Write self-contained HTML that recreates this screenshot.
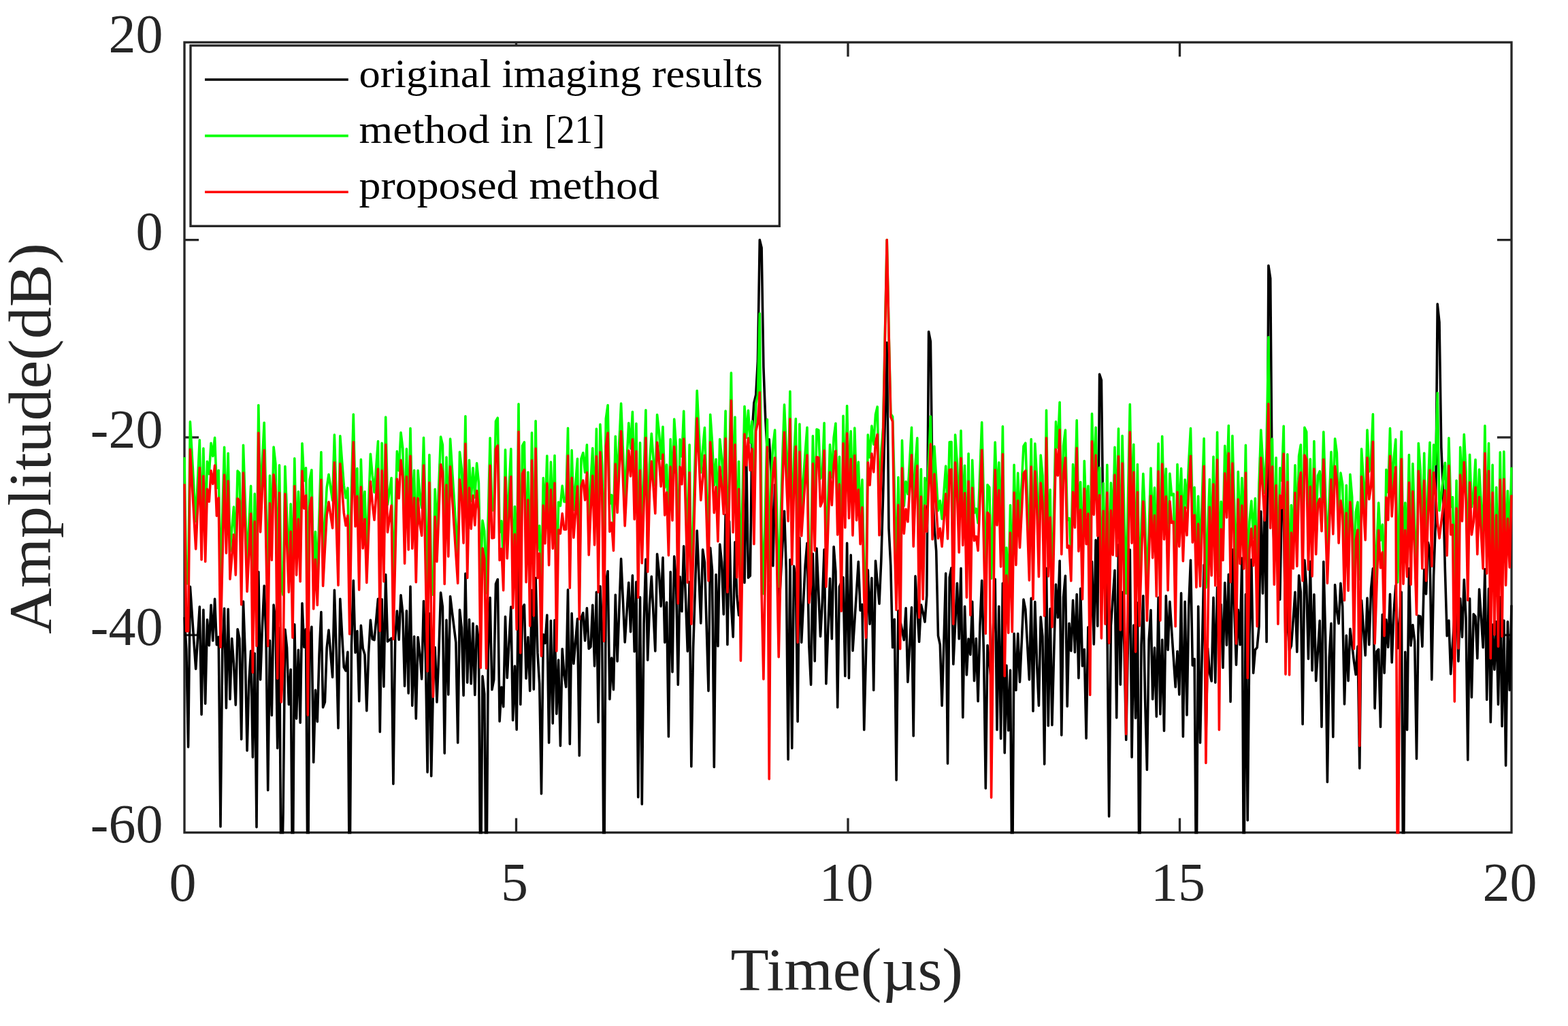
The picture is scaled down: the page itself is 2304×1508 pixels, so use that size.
<!DOCTYPE html>
<html lang="en"><head><meta charset="utf-8"><title>Amplitude versus time</title>
<style>
html,body{margin:0;padding:0;background:#fff;}
body{width:2304px;height:1508px;overflow:hidden;}
svg{display:block;}
text{font-family:"Liberation Serif","DejaVu Serif",serif;}
.ax{fill:none;stroke:#262626;stroke-width:3.33;stroke-linecap:square;}
.tk{fill:none;stroke:#262626;stroke-width:3.33;stroke-linecap:butt;}
.ln{fill:none;stroke-width:3.60;stroke-linejoin:round;stroke-linecap:butt;}
.tl{fill:#262626;font-size:80px;}
.lb{fill:#262626;font-size:89px;}
.lg{fill:#000;font-size:59px;}
</style></head><body>
<svg width="2304" height="1508" viewBox="0 0 2304 1508">
<defs><clipPath id="c"><rect x="269.30" y="60.50" width="1953.40" height="1164.90"/></clipPath></defs>
<rect width="2304" height="1508" fill="#fff"/>
<rect class="ax" x="271.00" y="62.20" width="1950.00" height="1161.50"/>
<path class="tk" d="M758.50 1223.70v-21.10M758.50 62.20v21.10M1246.00 1223.70v-21.10M1246.00 62.20v21.10M1733.50 1223.70v-21.10M1733.50 62.20v21.10M271.00 352.57h21.10M2221.00 352.57h-21.10M271.00 642.95h21.10M2221.00 642.95h-21.10M271.00 933.33h21.10M2221.00 933.33h-21.10"/>
<g clip-path="url(#c)">
<polyline class="ln" stroke="#000" points="271.0,907.2 273.8,954.0 276.6,1097.9 279.4,862.2 282.2,902.5 284.9,942.9 287.7,983.2 290.5,937.6 293.3,891.9 296.1,1050.1 298.9,896.3 301.7,1034.2 304.5,910.9 307.3,948.6 310.1,889.3 312.8,941.7 315.6,880.3 318.4,947.6 321.2,936.3 324.0,1214.9 326.8,955.3 329.6,894.2 332.4,1040.6 335.2,895.3 338.0,1027.6 340.7,938.5 343.5,975.6 346.3,1036.2 349.1,924.7 351.9,938.7 354.7,1086.6 357.5,884.1 360.3,961.6 363.1,1103.1 365.8,1003.3 368.6,956.8 371.4,1113.0 374.2,960.3 377.0,1215.7 379.8,840.6 382.6,998.9 385.4,921.5 388.2,861.0 391.0,935.5 393.7,1161.4 396.5,941.6 399.3,1051.5 402.1,889.1 404.9,912.7 407.7,1099.7 410.5,923.1 413.3,1339.9 416.1,1194.4 418.9,925.3 421.6,952.3 424.4,1035.4 427.2,984.1 430.0,1339.9 432.8,917.7 435.6,1056.2 438.4,955.4 441.2,1062.3 444.0,886.7 446.8,951.2 449.5,924.7 452.3,1339.9 455.1,943.5 457.9,921.3 460.7,1120.5 463.5,1014.4 466.3,1060.6 469.1,961.4 471.9,899.5 474.6,1039.7 477.4,1031.9 480.2,952.1 483.0,926.1 485.8,960.8 488.6,995.4 491.4,867.2 494.2,956.1 497.0,1070.1 499.8,880.3 502.5,930.5 505.3,980.6 508.1,985.9 510.9,958.4 513.7,1339.9 516.5,948.7 519.3,853.3 522.1,959.1 524.9,927.6 527.7,1030.7 530.4,919.4 533.2,952.7 536.0,962.3 538.8,1044.6 541.6,960.0 544.4,911.4 547.2,939.3 550.0,940.7 552.8,910.5 555.5,880.2 558.3,1075.7 561.1,880.8 563.9,1009.3 566.7,844.6 569.5,943.0 572.3,940.5 575.1,938.1 577.9,1152.3 580.7,937.8 583.4,898.0 586.2,940.1 589.0,874.8 591.8,901.5 594.6,1008.4 597.4,897.7 600.2,1018.9 603.0,862.1 605.8,1037.1 608.6,935.5 611.3,1056.2 614.1,936.5 616.9,961.4 619.7,998.0 622.5,883.5 625.3,960.7 628.1,1134.9 630.9,901.8 633.7,1140.8 636.5,1008.4 639.2,951.6 642.0,1031.9 644.8,960.8 647.6,871.1 650.4,892.2 653.2,1107.1 656.0,911.2 658.8,1021.0 661.6,876.5 664.3,899.1 667.1,921.8 669.9,944.5 672.7,1091.8 675.5,896.3 678.3,922.6 681.1,1022.3 683.9,843.0 686.7,1003.2 689.5,910.6 692.2,1005.0 695.0,916.4 697.8,1021.5 700.6,920.3 703.4,942.3 706.2,1339.9 709.0,993.9 711.8,1019.9 714.6,1339.9 717.4,956.3 720.1,878.5 722.9,1013.7 725.7,998.9 728.5,858.1 731.3,851.5 734.1,1060.2 736.9,1010.0 739.7,1038.8 742.5,906.2 745.2,996.3 748.0,944.2 750.8,892.0 753.6,1058.8 756.4,979.1 759.2,1072.4 762.0,826.4 764.8,1035.4 767.6,893.3 770.4,888.8 773.1,997.1 775.9,936.6 778.7,1015.4 781.5,867.6 784.3,1013.3 787.1,849.6 789.9,959.4 792.7,1005.4 795.5,1166.6 798.3,932.6 801.0,945.5 803.8,904.1 806.6,1091.8 809.4,912.3 812.2,1063.2 815.0,911.5 817.8,1049.3 820.6,970.1 823.4,1096.2 826.2,953.7 828.9,991.1 831.7,1009.8 834.5,866.9 837.3,1093.6 840.1,901.5 842.9,975.4 845.7,942.5 848.5,909.6 851.3,1110.6 854.0,908.1 856.8,900.8 859.6,941.6 862.4,893.7 865.2,953.5 868.0,950.7 870.8,889.3 873.6,978.9 876.4,870.3 879.2,1061.4 881.9,861.7 884.7,927.5 887.5,1339.9 890.3,855.7 893.1,839.5 895.9,1027.6 898.7,967.1 901.5,1013.7 904.3,874.3 907.1,972.0 909.8,896.7 912.6,821.4 915.4,882.7 918.2,944.0 921.0,900.1 923.8,856.2 926.6,928.7 929.4,845.9 932.2,957.8 934.9,855.4 937.7,1171.8 940.5,877.9 943.3,1181.9 946.1,917.0 948.9,822.0 951.7,970.2 954.5,888.6 957.3,847.4 960.1,902.2 962.8,957.0 965.6,814.2 968.4,841.9 971.2,891.2 974.0,819.6 976.8,944.2 979.6,885.3 982.4,1082.8 985.2,840.6 988.0,987.6 990.7,817.9 993.5,854.7 996.3,1006.4 999.1,847.7 1001.9,898.7 1004.7,802.9 1007.5,880.0 1010.3,957.1 1013.1,855.3 1015.8,1126.6 1018.6,952.6 1021.4,866.3 1024.2,780.0 1027.0,848.0 1029.8,915.9 1032.6,807.8 1035.4,826.6 1038.2,921.0 1041.0,1015.4 1043.7,805.2 1046.5,838.5 1049.3,1127.5 1052.1,844.5 1054.9,949.6 1057.7,800.0 1060.5,826.2 1063.3,902.9 1066.1,756.7 1068.9,947.5 1071.6,766.4 1074.4,889.8 1077.2,936.2 1080.0,796.8 1082.8,875.2 1085.6,904.3 1088.4,875.2 1091.2,744.6 1094.0,856.4 1096.8,677.8 1099.5,849.1 1102.3,846.2 1105.1,635.7 1107.9,592.1 1110.7,580.5 1113.5,529.7 1116.3,352.6 1119.1,364.2 1121.9,539.9 1124.6,612.5 1127.4,664.7 1130.2,645.9 1133.0,692.3 1135.8,831.7 1138.6,712.6 1141.4,788.1 1144.2,902.5 1147.0,852.1 1149.8,801.6 1152.5,751.2 1155.3,837.9 1158.1,1116.2 1160.9,822.6 1163.7,1099.7 1166.5,832.1 1169.3,848.4 1172.1,1060.6 1174.9,790.6 1177.7,944.2 1180.4,887.3 1183.2,830.4 1186.0,798.2 1188.8,949.4 1191.6,1006.4 1194.4,814.1 1197.2,971.6 1200.0,806.1 1202.8,871.2 1205.5,935.5 1208.3,884.3 1211.1,807.8 1213.9,1005.0 1216.7,927.7 1219.5,850.4 1222.3,939.0 1225.1,803.5 1227.9,839.6 1230.7,1039.7 1233.4,862.5 1236.2,855.6 1239.0,848.6 1241.8,993.7 1244.6,798.2 1247.4,996.6 1250.2,815.7 1253.0,956.4 1255.8,912.8 1258.6,869.1 1261.3,825.5 1264.1,897.3 1266.9,888.5 1269.7,1072.7 1272.5,958.6 1275.3,837.7 1278.1,917.3 1280.9,849.5 1283.7,1014.5 1286.5,824.3 1289.2,855.8 1292.0,887.4 1294.8,824.4 1297.6,728.6 1300.4,613.9 1303.2,503.6 1306.0,776.5 1308.8,831.7 1311.6,951.7 1314.3,910.2 1317.1,1146.6 1319.9,897.7 1322.7,912.0 1325.5,926.4 1328.3,940.7 1331.1,893.8 1333.9,1002.4 1336.7,947.7 1339.5,892.9 1342.2,1081.8 1345.0,846.9 1347.8,895.1 1350.6,943.3 1353.4,889.0 1356.2,899.9 1359.0,914.1 1361.8,875.2 1364.6,487.6 1367.4,502.1 1370.1,715.5 1372.9,773.6 1375.7,809.9 1378.5,934.3 1381.3,947.3 1384.1,1037.1 1386.9,944.0 1389.7,842.9 1392.5,1122.3 1395.2,848.8 1398.0,834.7 1400.8,976.3 1403.6,916.8 1406.4,857.3 1409.2,939.0 1412.0,835.3 1414.8,1054.5 1417.6,891.3 1420.4,991.9 1423.1,939.0 1425.9,962.1 1428.7,884.3 1431.5,1000.6 1434.3,938.5 1437.1,1030.7 1439.9,920.5 1442.7,853.3 1445.5,960.1 1448.3,1158.7 1451.0,948.5 1453.8,974.6 1456.6,1000.6 1459.4,925.9 1462.2,851.2 1465.0,1072.7 1467.8,891.2 1470.6,1085.8 1473.4,857.3 1476.2,1106.6 1478.9,978.1 1481.7,1073.6 1484.5,985.0 1487.3,1339.9 1490.1,931.2 1492.9,1014.5 1495.7,931.2 1498.5,1002.4 1501.3,941.7 1504.0,881.1 1506.8,895.6 1509.6,947.2 1512.4,998.9 1515.2,879.4 1518.0,1045.3 1520.8,884.6 1523.6,975.5 1526.4,1037.1 1529.2,906.8 1531.9,935.5 1534.7,1123.1 1537.5,835.3 1540.3,1066.7 1543.1,894.7 1545.9,1065.8 1548.7,957.8 1551.5,859.1 1554.3,907.7 1557.1,824.3 1559.8,1080.6 1562.6,877.7 1565.4,846.4 1568.2,1038.3 1571.0,916.4 1573.8,956.6 1576.6,882.2 1579.4,958.8 1582.2,873.5 1584.9,996.6 1587.7,865.1 1590.5,978.9 1593.3,954.6 1596.1,1085.2 1598.9,921.9 1601.7,950.1 1604.5,825.5 1607.3,946.9 1610.1,793.9 1612.8,920.3 1615.6,550.0 1618.4,558.7 1621.2,788.1 1624.0,759.1 1626.8,901.5 1629.6,1199.9 1632.4,919.2 1635.2,878.7 1638.0,838.2 1640.7,1055.0 1643.5,800.9 1646.3,1006.2 1649.1,870.4 1651.9,948.0 1654.7,1087.5 1657.5,944.3 1660.3,808.1 1663.1,1113.0 1665.8,919.0 1668.6,1055.4 1671.4,886.0 1674.2,1339.9 1677.0,947.9 1679.8,875.9 1682.6,1027.6 1685.4,1131.5 1688.2,940.7 1691.0,896.8 1693.7,1027.6 1696.5,952.0 1699.3,1053.3 1702.1,878.2 1704.9,1049.8 1707.7,940.2 1710.5,1074.1 1713.3,875.9 1716.1,955.3 1718.9,884.3 1721.6,926.1 1724.4,968.0 1727.2,1009.8 1730.0,957.2 1732.8,1021.0 1735.6,871.7 1738.4,1082.8 1741.2,884.3 1744.0,1051.0 1746.8,890.0 1749.5,823.4 1752.3,978.0 1755.1,968.5 1757.9,1339.9 1760.7,891.2 1763.5,1091.8 1766.3,957.1 1769.1,830.4 1771.9,1084.9 1774.6,952.6 1777.4,988.5 1780.2,1001.1 1783.0,878.2 1785.8,1003.2 1788.6,863.4 1791.4,942.1 1794.2,888.6 1797.0,981.5 1799.8,856.5 1802.5,948.1 1805.3,844.3 1808.1,1031.4 1810.9,807.8 1813.7,892.5 1816.5,977.2 1819.3,896.4 1822.1,947.7 1824.9,820.3 1827.7,1339.9 1830.4,873.6 1833.2,1205.7 1836.0,933.5 1838.8,822.6 1841.6,989.3 1844.4,955.2 1847.2,951.6 1850.0,920.3 1852.8,751.8 1855.5,872.3 1858.3,730.1 1861.1,943.5 1863.9,390.3 1866.7,409.2 1869.5,744.6 1872.3,802.7 1875.1,759.1 1877.9,817.2 1880.7,881.1 1883.4,738.8 1886.2,739.0 1889.0,948.1 1891.8,888.3 1894.6,956.0 1897.4,949.3 1900.2,911.2 1903.0,870.4 1905.8,958.1 1908.6,845.7 1911.3,870.2 1914.1,1064.4 1916.9,823.4 1919.7,861.7 1922.5,968.5 1925.3,825.2 1928.1,985.5 1930.9,873.8 1933.7,1000.6 1936.5,956.5 1939.2,912.4 1942.0,1068.4 1944.8,825.5 1947.6,935.4 1950.4,1149.5 1953.2,966.7 1956.0,916.4 1958.8,1083.2 1961.6,859.6 1964.3,896.4 1967.1,916.4 1969.9,857.3 1972.7,891.2 1975.5,1034.9 1978.3,934.0 1981.1,1000.6 1983.9,924.2 1986.7,948.1 1989.5,972.0 1992.2,991.4 1995.0,950.0 1997.8,1129.2 2000.6,882.5 2003.4,922.9 2006.2,963.3 2009.0,879.0 2011.8,947.7 2014.6,865.1 2017.4,835.6 2020.1,1041.1 2022.9,957.4 2025.7,954.3 2028.5,1068.4 2031.3,903.4 2034.1,989.3 2036.9,910.7 2039.7,951.3 2042.5,873.3 2045.2,973.7 2048.0,900.2 2050.8,860.8 2053.6,952.8 2056.4,911.6 2059.2,870.4 2062.0,1339.9 2064.8,958.2 2067.6,1072.7 2070.4,835.6 2073.1,948.9 2075.9,918.5 2078.7,942.7 2081.5,1115.3 2084.3,905.1 2087.1,906.0 2089.9,950.3 2092.7,837.3 2095.5,873.0 2098.3,797.4 2101.0,808.5 2103.8,998.9 2106.6,846.2 2109.4,767.8 2112.2,446.9 2115.0,473.8 2117.8,657.5 2120.6,724.3 2123.4,839.0 2126.2,934.6 2128.9,912.1 2131.7,990.7 2134.5,946.8 2137.3,902.9 2140.1,859.1 2142.9,972.0 2145.7,879.8 2148.5,936.4 2151.3,852.1 2154.0,907.7 2156.8,1117.0 2159.6,879.9 2162.4,1024.9 2165.2,902.5 2168.0,906.0 2170.8,967.6 2173.6,866.0 2176.4,908.8 2179.2,951.7 2181.9,836.5 2184.7,1028.4 2187.5,865.3 2190.3,1061.4 2193.1,918.1 2195.9,984.1 2198.7,913.8 2201.5,1035.4 2204.3,877.8 2207.1,1067.5 2209.8,912.1 2212.6,1125.2 2215.4,913.8 2218.2,1014.5 2221.0,889.5"/>
<polyline class="ln" stroke="#0f0" points="271.0,672.0 273.8,857.8 276.6,857.8 279.4,619.9 282.2,668.7 284.9,717.5 287.7,766.3 290.5,706.6 293.3,646.9 296.1,781.9 298.9,659.0 301.7,784.9 304.5,678.2 307.3,696.6 310.1,651.2 312.8,670.5 315.6,643.4 318.4,717.4 321.2,691.2 324.0,857.1 326.8,757.2 329.6,657.3 332.4,772.4 335.2,666.3 338.0,810.6 340.7,777.8 343.5,745.1 346.3,804.5 349.1,692.1 351.9,695.2 354.7,847.9 357.5,654.4 360.3,741.6 363.1,828.8 365.8,772.9 368.6,714.3 371.4,860.9 374.2,725.9 377.0,869.8 379.8,595.6 382.6,741.4 385.4,678.2 388.2,621.2 391.0,741.4 393.7,861.6 396.5,699.0 399.3,782.4 402.1,657.0 404.9,681.6 407.7,863.2 410.5,683.7 413.3,863.2 416.1,874.6 418.9,685.5 421.6,757.6 424.4,829.7 427.2,740.7 430.0,847.7 432.8,673.8 435.6,804.5 438.4,722.5 441.2,814.1 444.0,651.7 446.8,706.8 449.5,687.7 452.3,853.2 455.1,705.1 457.9,690.7 460.7,854.4 463.5,781.5 466.3,848.0 469.1,756.3 471.9,664.6 474.6,820.7 477.4,766.5 480.2,716.4 483.0,697.3 485.8,716.4 488.6,735.5 491.4,639.1 494.2,729.3 497.0,819.6 499.8,640.8 502.5,677.1 505.3,713.4 508.1,731.8 510.9,717.3 513.7,865.8 516.5,717.3 519.3,609.0 522.1,733.2 524.9,688.6 527.7,826.2 530.4,675.2 533.2,765.3 536.0,722.5 538.8,815.8 541.6,741.5 544.4,667.2 547.2,699.0 550.0,723.6 552.8,686.1 555.5,648.6 558.3,865.4 561.1,651.2 563.9,814.1 566.7,613.0 569.5,741.6 572.3,722.1 575.1,702.5 577.9,860.2 580.7,761.8 583.4,663.4 586.2,691.7 589.0,635.8 591.8,659.0 594.6,787.7 597.4,659.9 600.2,767.3 603.0,629.5 605.8,765.4 608.6,691.2 611.3,814.9 614.1,691.5 616.9,729.4 619.7,746.5 622.5,643.4 625.3,753.9 628.1,864.3 630.9,668.6 633.7,849.9 636.5,874.3 639.2,719.0 642.0,784.7 644.8,713.4 647.6,642.0 650.4,653.8 653.2,817.9 656.0,672.1 658.8,777.2 661.6,645.1 664.3,688.0 667.1,730.9 669.9,773.8 672.7,816.7 675.5,664.3 678.3,688.6 681.1,757.4 683.9,611.8 686.7,808.9 689.5,676.4 692.2,736.5 695.0,687.7 697.8,731.3 700.6,680.8 703.4,709.8 706.2,856.0 709.0,765.0 711.8,780.3 714.6,871.7 717.4,757.7 720.1,643.8 722.9,750.3 725.7,749.8 728.5,619.1 731.3,614.2 734.1,782.8 736.9,765.9 739.7,827.1 742.5,661.1 745.2,780.2 748.0,720.0 750.8,659.9 753.6,853.2 756.4,744.6 759.2,854.9 762.0,593.9 764.8,873.0 767.6,655.2 770.4,649.8 773.1,814.9 775.9,694.1 778.7,849.0 781.5,636.1 784.3,847.7 787.1,618.7 789.9,808.9 792.7,772.9 795.5,862.1 798.3,702.5 801.0,758.1 803.8,670.0 806.6,790.1 809.4,679.0 812.2,765.4 815.0,669.5 817.8,874.8 820.6,738.1 823.4,743.5 826.2,714.1 828.9,737.4 831.7,737.6 834.5,629.2 837.3,823.6 840.1,661.7 842.9,749.6 845.7,711.9 848.5,674.2 851.3,866.8 854.0,674.2 856.8,665.5 859.6,694.3 862.4,653.8 865.2,775.0 868.0,709.1 870.8,658.7 873.6,760.2 876.4,630.2 879.2,829.7 881.9,623.9 884.7,683.7 887.5,849.2 890.3,615.6 893.1,595.6 895.9,740.9 898.7,727.7 901.5,768.7 904.3,641.3 907.1,712.8 909.8,652.9 912.6,593.0 915.4,662.6 918.2,732.2 921.0,676.9 923.8,621.7 926.6,659.2 929.4,605.2 932.2,722.6 934.9,622.6 937.7,837.5 940.5,650.9 943.3,787.1 946.1,699.9 948.9,602.9 951.7,799.8 954.5,682.5 957.3,637.3 960.1,675.6 962.8,714.0 965.6,609.5 968.4,635.1 971.2,674.3 974.0,627.4 976.8,716.6 979.6,683.0 982.4,775.6 985.2,645.5 988.0,724.4 990.7,616.0 993.5,656.4 996.3,846.2 999.1,645.7 1001.9,670.9 1004.7,604.3 1007.5,709.9 1010.3,815.5 1013.1,653.8 1015.8,866.8 1018.6,769.3 1021.4,671.8 1024.2,574.2 1027.0,634.4 1029.8,694.5 1032.6,661.3 1035.4,628.6 1038.2,720.9 1041.0,813.2 1043.7,609.2 1046.5,650.0 1049.3,713.1 1052.1,675.0 1054.9,755.0 1057.7,645.5 1060.5,673.5 1063.3,714.8 1066.1,604.0 1068.9,829.7 1071.6,688.9 1074.4,548.0 1077.2,741.8 1080.0,613.0 1082.8,808.0 1085.6,678.2 1088.4,849.9 1091.2,723.6 1094.0,597.4 1096.8,643.3 1099.5,603.4 1102.3,650.6 1105.1,619.1 1107.9,759.1 1110.7,593.0 1113.5,580.9 1116.3,460.7 1119.1,775.3 1121.9,872.6 1124.6,744.5 1127.4,616.5 1130.2,853.8 1133.0,704.2 1135.8,655.6 1138.6,632.1 1141.4,747.1 1144.2,862.2 1147.0,767.6 1149.8,672.9 1152.5,594.8 1155.3,660.0 1158.1,725.3 1160.9,575.3 1163.7,788.9 1166.5,679.0 1169.3,615.6 1172.1,856.6 1174.9,623.4 1177.7,747.0 1180.4,706.1 1183.2,665.1 1186.0,628.4 1188.8,845.3 1191.6,818.9 1194.4,640.8 1197.2,768.5 1200.0,631.0 1202.8,632.1 1205.5,703.5 1208.3,696.7 1211.1,621.7 1213.9,821.9 1216.7,737.7 1219.5,653.5 1222.3,701.8 1225.1,643.4 1227.9,622.2 1230.7,745.2 1233.4,671.2 1236.2,857.5 1239.0,611.3 1241.8,734.8 1244.6,596.5 1247.4,720.9 1250.2,633.8 1253.0,746.2 1255.8,629.0 1258.6,724.1 1261.3,679.0 1264.1,759.1 1266.9,705.1 1269.7,838.6 1272.5,875.1 1275.3,639.1 1278.1,672.3 1280.9,626.0 1283.7,653.1 1286.5,609.5 1289.2,597.9 1292.0,746.1 1294.8,664.7 1297.6,628.4 1300.4,492.0 1303.2,352.6 1306.0,486.1 1308.8,608.1 1311.6,612.5 1314.3,716.4 1317.1,855.8 1319.9,701.6 1322.7,873.7 1325.5,647.4 1328.3,743.5 1331.1,707.7 1333.9,726.1 1336.7,677.2 1339.5,628.3 1342.2,762.6 1345.0,682.5 1347.8,643.9 1350.6,855.2 1353.4,689.5 1356.2,840.1 1359.0,702.5 1361.8,740.8 1364.6,676.5 1367.4,612.1 1370.1,752.2 1372.9,656.1 1375.7,703.3 1378.5,750.5 1381.3,736.0 1384.1,762.6 1386.9,723.9 1389.7,685.1 1392.5,751.3 1395.2,649.8 1398.0,649.5 1400.8,868.1 1403.6,639.1 1406.4,681.6 1409.2,771.3 1412.0,633.0 1414.8,760.9 1417.6,684.2 1420.4,837.5 1423.1,666.9 1425.9,863.6 1428.7,676.4 1431.5,753.9 1434.3,747.7 1437.1,768.7 1439.9,694.8 1442.7,620.8 1445.5,736.9 1448.3,852.9 1451.0,712.6 1453.8,716.4 1456.6,850.2 1459.4,750.1 1462.2,650.0 1465.0,731.3 1467.8,679.9 1470.6,792.3 1473.4,626.9 1476.2,862.6 1478.9,805.0 1481.7,871.4 1484.5,742.5 1487.3,870.6 1490.1,683.4 1492.9,789.7 1495.7,695.2 1498.5,764.4 1501.3,710.0 1504.0,655.6 1506.8,651.2 1509.6,731.8 1512.4,812.3 1515.2,645.5 1518.0,840.1 1520.8,652.1 1523.6,703.4 1526.4,807.1 1529.2,669.1 1531.9,699.0 1534.7,851.3 1537.5,603.1 1540.3,806.2 1543.1,719.9 1545.9,873.6 1548.7,746.8 1551.5,619.9 1554.3,658.2 1557.1,591.3 1559.8,773.9 1562.6,655.2 1565.4,632.1 1568.2,764.4 1571.0,761.6 1573.8,813.2 1576.6,682.5 1579.4,734.8 1582.2,617.9 1584.9,769.6 1587.7,708.6 1590.5,840.1 1593.3,677.6 1596.1,759.1 1598.9,714.3 1601.7,850.4 1604.5,608.1 1607.3,715.7 1610.1,628.4 1612.8,747.0 1615.6,687.2 1618.4,871.4 1621.2,710.3 1624.0,846.3 1626.8,683.4 1629.6,856.0 1632.4,709.8 1635.2,775.0 1638.0,657.3 1640.7,776.5 1643.5,630.0 1646.3,853.0 1649.1,640.5 1651.9,756.4 1654.7,872.3 1657.5,733.3 1660.3,594.4 1663.1,757.4 1665.8,653.3 1668.6,862.9 1671.4,682.5 1674.2,864.8 1677.0,780.6 1679.8,696.4 1682.6,762.6 1685.4,867.4 1688.2,777.7 1691.0,688.1 1693.7,779.3 1696.5,716.9 1699.3,835.8 1702.1,652.1 1704.9,861.9 1707.7,641.3 1710.5,752.2 1713.3,689.1 1716.1,827.1 1718.9,696.1 1721.6,727.9 1724.4,725.9 1727.2,863.7 1730.0,682.5 1732.8,762.6 1735.6,688.6 1738.4,784.2 1741.2,705.1 1744.0,746.1 1746.8,678.2 1749.5,629.5 1752.3,756.5 1755.1,716.4 1757.9,822.4 1760.7,729.4 1763.5,821.0 1766.3,732.8 1769.1,644.6 1771.9,863.7 1774.6,784.1 1777.4,704.6 1780.2,805.4 1783.0,671.2 1785.8,820.1 1788.6,635.2 1791.4,846.4 1794.2,737.2 1797.0,782.8 1799.8,655.2 1802.5,720.0 1805.3,625.5 1808.1,814.9 1810.9,640.5 1813.7,746.6 1816.5,852.8 1819.3,693.4 1822.1,788.0 1824.9,702.5 1827.7,795.3 1830.4,654.4 1833.2,865.5 1836.0,766.1 1838.8,736.4 1841.6,790.6 1844.4,732.5 1847.2,867.2 1850.0,711.2 1852.8,632.1 1855.5,678.2 1858.3,724.4 1861.1,657.5 1863.9,495.6 1866.7,735.7 1869.5,645.1 1872.3,818.4 1875.1,672.9 1877.9,863.3 1880.7,687.7 1883.4,706.1 1886.2,626.4 1889.0,866.8 1891.8,667.7 1894.6,874.8 1897.4,742.5 1900.2,795.0 1903.0,683.7 1905.8,791.5 1908.6,670.3 1911.3,653.8 1914.1,813.2 1916.9,628.4 1919.7,634.7 1922.5,796.7 1925.3,674.7 1928.1,806.2 1930.9,648.6 1933.7,774.1 1936.5,699.0 1939.2,692.6 1942.0,740.0 1944.8,634.7 1947.6,725.7 1950.4,816.7 1953.2,738.0 1956.0,664.3 1958.8,744.4 1961.6,644.7 1964.3,665.5 1967.1,757.4 1969.9,695.0 1972.7,712.0 1975.5,841.9 1978.3,713.4 1981.1,827.6 1983.9,697.3 1986.7,730.6 1989.5,849.9 1992.2,752.6 1995.0,738.1 1997.8,851.4 2000.6,659.9 2003.4,706.5 2006.2,753.1 2009.0,632.1 2011.8,693.1 2014.6,673.8 2017.4,608.7 2020.1,869.0 2022.9,804.0 2025.7,739.0 2028.5,794.1 2031.3,771.1 2034.1,873.6 2036.9,690.3 2039.7,723.5 2042.5,629.5 2045.2,718.3 2048.0,675.0 2050.8,645.9 2053.6,856.0 2056.4,745.1 2059.2,634.2 2062.0,817.5 2064.8,739.0 2067.6,807.1 2070.4,668.6 2073.1,818.4 2075.9,681.6 2078.7,772.2 2081.5,862.7 2084.3,651.6 2087.1,691.1 2089.9,795.0 2092.7,666.0 2095.5,813.2 2098.3,716.4 2101.0,650.4 2103.8,791.5 2106.6,653.8 2109.4,682.5 2112.2,577.6 2115.0,750.5 2117.8,727.0 2120.6,703.6 2123.4,680.2 2126.2,775.8 2128.9,643.9 2131.7,745.2 2134.5,730.7 2137.3,869.3 2140.1,706.3 2142.9,870.3 2145.7,657.3 2148.5,725.3 2151.3,638.5 2154.0,692.8 2156.8,841.5 2159.6,668.3 2162.4,745.2 2165.2,726.8 2168.0,675.6 2170.8,774.1 2173.6,690.0 2176.4,742.5 2179.2,795.0 2181.9,625.7 2184.7,802.4 2187.5,651.6 2190.3,874.0 2193.1,683.4 2195.9,875.1 2198.7,716.4 2201.5,856.6 2204.3,664.8 2207.1,863.4 2209.8,663.7 2212.6,819.6 2215.4,721.6 2218.2,793.2 2221.0,686.8"/>
<polyline class="ln" stroke="#f00" points="271.0,711.2 273.8,927.7 276.6,927.7 279.4,660.6 282.2,709.4 284.9,758.2 287.7,806.9 290.5,747.2 293.3,687.5 296.1,822.6 298.9,699.7 301.7,825.5 304.5,718.8 307.3,737.2 310.1,691.9 312.8,711.2 315.6,684.1 318.4,758.1 321.2,731.8 324.0,951.2 326.8,824.6 329.6,698.0 332.4,813.0 335.2,707.0 338.0,851.2 340.7,818.5 343.5,785.7 346.3,845.2 349.1,732.7 351.9,735.8 354.7,888.6 357.5,695.0 360.3,782.2 363.1,869.5 365.8,813.5 368.6,755.0 371.4,988.5 374.2,766.6 377.0,949.4 379.8,636.3 382.6,782.0 385.4,718.8 388.2,661.8 391.0,805.6 393.7,949.4 396.5,739.7 399.3,823.1 402.1,697.6 404.9,722.3 407.7,997.2 410.5,724.4 413.3,1032.0 416.1,974.9 418.9,726.1 421.6,798.2 424.4,870.4 427.2,781.4 430.0,937.3 432.8,714.5 435.6,845.2 438.4,763.1 441.2,854.7 444.0,692.4 446.8,747.5 449.5,728.4 452.3,1051.1 455.1,745.7 457.9,731.3 460.7,895.0 463.5,822.2 466.3,889.5 469.1,797.4 471.9,705.3 474.6,861.3 477.4,807.1 480.2,757.0 483.0,737.9 485.8,757.0 488.6,776.1 491.4,679.7 494.2,770.0 497.0,860.3 499.8,681.5 502.5,717.7 505.3,754.0 508.1,772.4 510.9,757.9 513.7,932.0 516.5,757.9 519.3,649.7 522.1,773.8 524.9,729.2 527.7,866.9 530.4,715.9 533.2,805.9 536.0,763.1 538.8,856.5 541.6,782.2 544.4,707.9 547.2,739.7 550.0,764.3 552.8,726.8 555.5,689.3 558.3,927.4 561.1,691.9 563.9,854.7 566.7,653.6 569.5,782.3 572.3,762.7 575.1,743.1 577.9,939.5 580.7,821.8 583.4,704.0 586.2,732.4 589.0,676.4 591.8,699.7 594.6,828.3 597.4,700.6 600.2,807.9 603.0,670.2 605.8,806.1 608.6,731.8 611.3,855.6 614.1,732.2 616.9,770.1 619.7,787.2 622.5,684.1 625.3,835.4 628.1,986.8 630.9,709.3 633.7,917.2 636.5,1024.1 639.2,759.6 642.0,825.4 644.8,754.0 647.6,682.7 650.4,694.5 653.2,858.5 656.0,712.7 658.8,817.9 661.6,685.8 664.3,728.7 667.1,771.6 669.9,814.4 672.7,857.3 675.5,704.9 678.3,729.2 681.1,798.1 683.9,652.4 686.7,849.5 689.5,717.1 692.2,777.2 695.0,728.4 697.8,772.0 700.6,721.4 703.4,750.4 706.2,981.6 709.0,805.7 711.8,821.0 714.6,982.4 717.4,833.4 720.1,684.4 722.9,790.9 725.7,790.4 728.5,659.7 731.3,654.9 734.1,823.4 736.9,806.6 739.7,867.7 742.5,701.8 745.2,820.8 748.0,760.7 750.8,700.6 753.6,893.8 756.4,785.2 759.2,925.1 762.0,634.5 764.8,959.8 767.6,695.9 770.4,690.5 773.1,855.6 775.9,734.8 778.7,919.9 781.5,676.8 784.3,905.1 787.1,659.4 789.9,849.5 792.7,813.5 795.5,964.2 798.3,743.1 801.0,798.8 803.8,710.6 806.6,830.7 809.4,719.7 812.2,806.1 815.0,710.1 817.8,956.9 820.6,778.8 823.4,784.2 826.2,754.8 828.9,778.1 831.7,778.2 834.5,669.8 837.3,864.3 840.1,702.3 842.9,790.2 845.7,752.5 848.5,714.8 851.3,910.0 854.0,714.8 856.8,706.1 859.6,734.9 862.4,694.5 865.2,815.6 868.0,749.7 870.8,699.3 873.6,800.9 876.4,670.9 879.2,870.4 881.9,664.6 884.7,724.4 887.5,942.5 890.3,656.3 893.1,636.3 895.9,781.5 898.7,768.3 901.5,809.3 904.3,682.0 907.1,753.5 909.8,693.6 912.6,633.7 915.4,703.3 918.2,772.9 921.0,717.6 923.8,662.3 926.6,699.9 929.4,645.8 932.2,763.3 934.9,663.2 937.7,878.2 940.5,691.5 943.3,827.8 946.1,740.5 948.9,643.6 951.7,840.5 954.5,723.2 957.3,678.0 960.1,716.3 962.8,754.6 965.6,650.2 968.4,675.7 971.2,715.0 974.0,668.1 976.8,757.2 979.6,723.7 982.4,816.3 985.2,686.1 988.0,765.0 990.7,656.6 993.5,697.1 996.3,886.9 999.1,686.3 1001.9,711.6 1004.7,645.0 1007.5,750.5 1010.3,856.1 1013.1,694.5 1015.8,917.3 1018.6,816.5 1021.4,715.7 1024.2,614.9 1027.0,675.0 1029.8,735.2 1032.6,702.0 1035.4,669.3 1038.2,761.6 1041.0,853.8 1043.7,649.8 1046.5,690.7 1049.3,753.7 1052.1,715.7 1054.9,795.6 1057.7,686.1 1060.5,714.1 1063.3,755.5 1066.1,644.6 1068.9,870.4 1071.6,729.5 1074.4,588.7 1077.2,782.4 1080.0,653.6 1082.8,848.6 1085.6,718.8 1088.4,971.1 1091.2,804.6 1094.0,638.0 1096.8,683.9 1099.5,644.1 1102.3,691.3 1105.1,659.7 1107.9,799.8 1110.7,633.7 1113.5,621.5 1116.3,576.9 1119.1,872.5 1121.9,998.1 1124.6,827.6 1127.4,657.1 1130.2,1144.9 1133.0,744.9 1135.8,696.2 1138.6,672.8 1141.4,819.2 1144.2,965.6 1147.0,839.6 1149.8,713.6 1152.5,635.4 1155.3,700.7 1158.1,765.9 1160.9,615.9 1163.7,829.5 1166.5,719.7 1169.3,656.3 1172.1,944.2 1174.9,664.1 1177.7,787.6 1180.4,746.7 1183.2,705.8 1186.0,669.1 1188.8,886.0 1191.6,859.6 1194.4,681.5 1197.2,809.2 1200.0,671.7 1202.8,672.8 1205.5,744.2 1208.3,737.3 1211.1,662.3 1213.9,862.5 1216.7,778.3 1219.5,694.1 1222.3,742.5 1225.1,684.1 1227.9,662.9 1230.7,785.9 1233.4,711.9 1236.2,898.2 1239.0,651.9 1241.8,775.5 1244.6,637.1 1247.4,761.6 1250.2,674.5 1253.0,786.9 1255.8,669.6 1258.6,764.8 1261.3,719.7 1264.1,799.8 1266.9,745.7 1269.7,879.2 1272.5,937.3 1275.3,679.7 1278.1,712.9 1280.9,666.7 1283.7,693.8 1286.5,650.2 1289.2,638.5 1292.0,786.8 1294.8,699.6 1297.6,643.0 1300.4,497.8 1303.2,352.6 1306.0,487.6 1308.8,612.5 1311.6,619.7 1314.3,792.5 1317.1,896.4 1319.9,742.3 1322.7,953.8 1325.5,688.1 1328.3,784.2 1331.1,748.4 1333.9,766.8 1336.7,717.9 1339.5,668.9 1342.2,803.3 1345.0,723.2 1347.8,684.6 1350.6,907.7 1353.4,730.1 1356.2,880.8 1359.0,743.1 1361.8,781.4 1364.6,717.1 1367.4,652.8 1370.1,792.8 1372.9,696.7 1375.7,744.0 1378.5,791.2 1381.3,776.7 1384.1,803.3 1386.9,764.5 1389.7,725.8 1392.5,792.0 1395.2,690.5 1398.0,690.1 1400.8,917.3 1403.6,679.7 1406.4,722.3 1409.2,812.0 1412.0,673.6 1414.8,801.5 1417.6,724.9 1420.4,878.2 1423.1,707.5 1425.9,904.2 1428.7,717.1 1431.5,794.6 1434.3,788.3 1437.1,809.3 1439.9,735.4 1442.7,661.5 1445.5,796.3 1448.3,931.2 1451.0,753.2 1453.8,757.0 1456.6,1172.2 1459.4,931.4 1462.2,690.7 1465.0,772.0 1467.8,720.5 1470.6,833.0 1473.4,667.6 1476.2,993.7 1478.9,845.7 1481.7,930.3 1484.5,783.1 1487.3,928.6 1490.1,724.0 1492.9,830.4 1495.7,735.8 1498.5,805.0 1501.3,750.6 1504.0,696.2 1506.8,691.9 1509.6,772.4 1512.4,853.0 1515.2,686.1 1518.0,880.8 1520.8,692.7 1523.6,744.0 1526.4,847.8 1529.2,709.8 1531.9,739.7 1534.7,905.1 1537.5,643.7 1540.3,846.9 1543.1,760.5 1545.9,921.6 1548.7,791.1 1551.5,660.6 1554.3,698.9 1557.1,631.9 1559.8,814.6 1562.6,695.9 1565.4,672.8 1568.2,805.0 1571.0,802.2 1573.8,853.8 1576.6,723.2 1579.4,775.5 1582.2,658.5 1584.9,810.2 1587.7,749.2 1590.5,880.8 1593.3,718.3 1596.1,799.8 1598.9,755.0 1601.7,1021.5 1604.5,648.8 1607.3,756.4 1610.1,669.1 1612.8,787.6 1615.6,727.8 1618.4,938.1 1621.2,751.0 1624.0,917.3 1626.8,724.0 1629.6,945.1 1632.4,750.4 1635.2,815.6 1638.0,698.0 1640.7,817.2 1643.5,670.7 1646.3,926.0 1649.1,681.1 1651.9,880.0 1654.7,1078.9 1657.5,857.0 1660.3,635.1 1663.1,798.1 1665.8,694.0 1668.6,958.1 1671.4,723.2 1674.2,919.9 1677.0,828.5 1679.8,737.1 1682.6,803.3 1685.4,912.1 1688.2,820.4 1691.0,728.7 1693.7,820.0 1696.5,757.6 1699.3,876.4 1702.1,692.7 1704.9,912.1 1707.7,682.0 1710.5,792.8 1713.3,729.8 1716.1,867.7 1718.9,736.7 1721.6,768.5 1724.4,766.6 1727.2,920.7 1730.0,723.2 1732.8,803.3 1735.6,729.2 1738.4,824.8 1741.2,745.7 1744.0,786.8 1746.8,718.8 1749.5,670.2 1752.3,797.2 1755.1,757.0 1757.9,863.1 1760.7,770.1 1763.5,861.7 1766.3,773.5 1769.1,685.3 1771.9,1121.4 1774.6,933.3 1777.4,745.2 1780.2,846.0 1783.0,711.9 1785.8,860.8 1788.6,675.9 1791.4,1072.8 1794.2,777.9 1797.0,823.4 1799.8,695.9 1802.5,760.7 1805.3,666.2 1808.1,855.6 1810.9,681.1 1813.7,813.5 1816.5,945.9 1819.3,734.1 1822.1,828.7 1824.9,743.1 1827.7,836.0 1830.4,695.0 1833.2,996.7 1836.0,806.7 1838.8,777.0 1841.6,831.3 1844.4,773.2 1847.2,920.7 1850.0,751.8 1852.8,672.8 1855.5,718.9 1858.3,765.0 1861.1,698.1 1863.9,593.6 1866.7,776.3 1869.5,685.8 1872.3,859.1 1875.1,713.6 1877.9,917.3 1880.7,728.4 1883.4,746.8 1886.2,667.0 1889.0,991.1 1891.8,708.4 1894.6,992.0 1897.4,783.1 1900.2,835.6 1903.0,724.4 1905.8,832.1 1908.6,711.0 1911.3,694.5 1914.1,853.8 1916.9,669.1 1919.7,675.4 1922.5,837.3 1925.3,715.3 1928.1,846.9 1930.9,689.3 1933.7,814.8 1936.5,739.7 1939.2,733.2 1942.0,780.7 1944.8,675.4 1947.6,766.3 1950.4,857.3 1953.2,778.6 1956.0,704.9 1958.8,785.0 1961.6,685.4 1964.3,706.1 1967.1,798.1 1969.9,735.7 1972.7,752.7 1975.5,882.5 1978.3,754.1 1981.1,868.3 1983.9,737.9 1986.7,771.3 1989.5,953.8 1992.2,793.3 1995.0,778.8 1997.8,1096.2 2000.6,700.6 2003.4,747.1 2006.2,793.7 2009.0,672.8 2011.8,733.8 2014.6,714.5 2017.4,649.3 2020.1,945.9 2022.9,862.8 2025.7,779.6 2028.5,834.7 2031.3,811.8 2034.1,934.6 2036.9,731.0 2039.7,764.2 2042.5,670.2 2045.2,759.0 2048.0,715.7 2050.8,686.6 2053.6,1339.9 2056.4,1007.3 2059.2,674.8 2062.0,858.2 2064.8,779.6 2067.6,847.8 2070.4,709.3 2073.1,859.1 2075.9,722.3 2078.7,812.8 2081.5,903.4 2084.3,692.2 2087.1,731.8 2089.9,835.6 2092.7,706.6 2095.5,853.8 2098.3,757.0 2101.0,691.0 2103.8,832.1 2106.6,694.5 2109.4,723.2 2112.2,768.5 2115.0,791.1 2117.8,767.7 2120.6,744.3 2123.4,720.9 2126.2,816.5 2128.9,684.6 2131.7,785.8 2134.5,771.3 2137.3,1031.1 2140.1,747.0 2142.9,952.9 2145.7,698.0 2148.5,765.9 2151.3,679.2 2154.0,733.5 2156.8,882.2 2159.6,709.0 2162.4,785.9 2165.2,767.5 2168.0,716.2 2170.8,814.8 2173.6,730.6 2176.4,783.1 2179.2,835.6 2181.9,666.3 2184.7,843.0 2187.5,692.2 2190.3,967.7 2193.1,724.0 2195.9,932.9 2198.7,757.0 2201.5,950.3 2204.3,705.4 2207.1,935.5 2209.8,704.4 2212.6,860.3 2215.4,762.3 2218.2,833.9 2221.0,727.5"/>
</g>
<text class="tl" transform="translate(239.50 76.80)" text-anchor="end">20</text>
<text class="tl" transform="translate(239.50 367.18)" text-anchor="end">0</text>
<text class="tl" transform="translate(239.50 657.55)" text-anchor="end">-20</text>
<text class="tl" transform="translate(239.50 947.93)" text-anchor="end">-40</text>
<text class="tl" transform="translate(239.50 1238.30)" text-anchor="end">-60</text>
<text class="tl" transform="translate(268.60 1324.20)" text-anchor="middle">0</text>
<text class="tl" transform="translate(756.10 1324.20)" text-anchor="middle">5</text>
<text class="tl" transform="translate(1243.60 1324.20)" text-anchor="middle">10</text>
<text class="tl" transform="translate(1731.10 1324.20)" text-anchor="middle">15</text>
<text class="tl" transform="translate(2218.60 1324.20)" text-anchor="middle">20</text>
<text class="lb" transform="translate(1244.30 1454.60) scale(1.0350 1)" text-anchor="middle">Time(µs)</text>
<text class="lb" transform="translate(74.40 644.60) rotate(-90) scale(1.0570 1)" text-anchor="middle">Amplitude(dB)</text>
<rect x="280.00" y="66.90" width="865.30" height="265.40" fill="#fff" stroke="#262626" stroke-width="3.33"/>
<line x1="301.0" y1="117.00" x2="511.8" y2="117.00" stroke="#000" stroke-width="3.60"/>
<text class="lg" x="527.6" y="128.20" textLength="593.2" lengthAdjust="spacingAndGlyphs">original imaging results</text>
<line x1="301.0" y1="199.60" x2="511.8" y2="199.60" stroke="#0f0" stroke-width="3.60"/>
<text class="lg" y="209.60"><tspan x="527.6" textLength="191.8" lengthAdjust="spacingAndGlyphs">method</tspan> <tspan x="735.1" textLength="47.8" lengthAdjust="spacingAndGlyphs">in</tspan> <tspan x="800.0" textLength="89.0" lengthAdjust="spacingAndGlyphs">[21]</tspan></text>
<line x1="301.0" y1="282.30" x2="511.8" y2="282.30" stroke="#f00" stroke-width="3.60"/>
<text class="lg" x="527.6" y="292.20" textLength="441.2" lengthAdjust="spacingAndGlyphs">proposed method</text>
</svg>
</body></html>
